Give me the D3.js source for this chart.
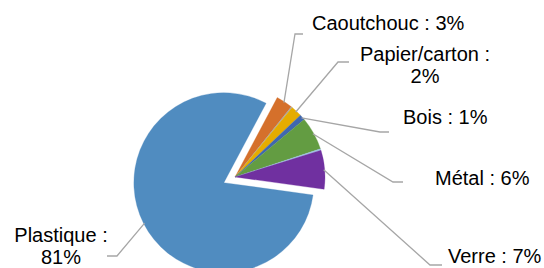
<!DOCTYPE html>
<html lang="fr">
<head>
<meta charset="utf-8">
<style type="text/css">
	body { margin: 0; background: #fff; }
	text { font-family: "Liberation Sans", Arial, sans-serif; font-size: 20px; fill: #000; }
</style>
</head>
<body>
<script src="https://d3js.org/d3.v7.min.js"></script>
<script type="text/javascript">
// donnees (les deux tranches sans nom sont les fines tranches sans etiquette)
var categories = ["Caoutchouc", "", "Papier/carton", "Bois", "Métal", "", "Verre", "Plastique"];
var values = [3, 0.2, 2, 1, 6, 0.3, 7, 81];
var sliceColors = ["#D5702B", "#A6A6A6", "#E5AC00", "#3F67B0", "#639C42", "#9DC0E4", "#7030A0", "#508CC0"];
var explode = [0, 0, 0, 0, 0, 0, 0, 12.5];

// placement des etiquettes (texte + ligne de rappel)
var labelLayout = {
	"Caoutchouc":    {x: 312, y: 30,  anchor: "start",  wrap: false, elbow: [295, 34],  end: [303, 34]},
	"Papier/carton": {x: 425, y: 61,  anchor: "middle", wrap: true,  elbow: [338, 62],  end: [349, 62]},
	"Bois":          {x: 403, y: 124, anchor: "start",  wrap: false, elbow: [380, 132], end: [389, 132]},
	"Métal":         {x: 435, y: 185, anchor: "start",  wrap: false, elbow: [393, 182], end: [403, 182]},
	"Verre":         {x: 448, y: 263, anchor: "start",  wrap: false, elbow: [430, 265], end: [442, 265]},
	"Plastique":     {x: 61,  y: 242, anchor: "middle", wrap: true,  elbow: [117, 256], end: [107, 256]}
};

var width = 544, height = 268;
var cx = 235, cy = 177, radius = 90;
var lineHeight = 22;

var svg = d3.select("body")
	.append("svg")
	.attr("width", width)
	.attr("height", height);

var pie = d3.pie()
	.sort(null)
	.value(function (d) { return d; })
	.startAngle(28 * Math.PI / 180)
	.endAngle(28 * Math.PI / 180 + 2 * Math.PI);

var arcs = pie(values);
arcs.forEach(function (a, i) {
	var mid = (a.startAngle + a.endAngle) / 2;
	a.dx = Math.sin(mid) * explode[i];
	a.dy = -Math.cos(mid) * explode[i];
	a.mid = mid;
});

var arc = d3.arc().innerRadius(0).outerRadius(radius);

var g = svg.append("g").attr("transform", "translate(" + cx + "," + cy + ")");

g.selectAll("path.slice")
	.data(arcs)
	.enter()
	.append("path")
	.attr("class", "slice")
	.attr("transform", function (d) { return "translate(" + d.dx + "," + d.dy + ")"; })
	.attr("d", arc)
	.style("fill", function (d, i) { return sliceColors[i]; })
	.style("stroke", function (d, i) { return sliceColors[i]; })
	.style("stroke-width", 0.3);

// lignes de rappel
var labelled = arcs.filter(function (d, i) { return categories[i] !== ""; });

svg.selectAll("polyline.leader")
	.data(labelled)
	.enter()
	.append("polyline")
	.attr("class", "leader")
	.attr("points", function (d) {
		var lay = labelLayout[categories[d.index]];
		var sx = cx + d.dx + Math.sin(d.mid) * (radius - 1);
		var sy = cy + d.dy - Math.cos(d.mid) * (radius - 1);
		return [[sx, sy], lay.elbow, lay.end].map(function (p) { return p.join(","); }).join(" ");
	})
	.style("fill", "none")
	.style("stroke", "#A6A6A6")
	.style("stroke-width", 1.3);

// etiquettes
var labels = svg.selectAll("text.label")
	.data(labelled)
	.enter()
	.append("text")
	.attr("class", "label")
	.attr("text-anchor", function (d) { return labelLayout[categories[d.index]].anchor; });

labels.each(function (d) {
	var name = categories[d.index], lay = labelLayout[name];
	var lines = lay.wrap ? [name + " :", values[d.index] + "%"] : [name + " : " + values[d.index] + "%"];
	d3.select(this).selectAll("tspan")
		.data(lines)
		.enter()
		.append("tspan")
		.attr("x", lay.x)
		.attr("y", function (l, k) { return lay.y + k * lineHeight; })
		.text(function (l) { return l; });
});
</script>
</body>
</html>
